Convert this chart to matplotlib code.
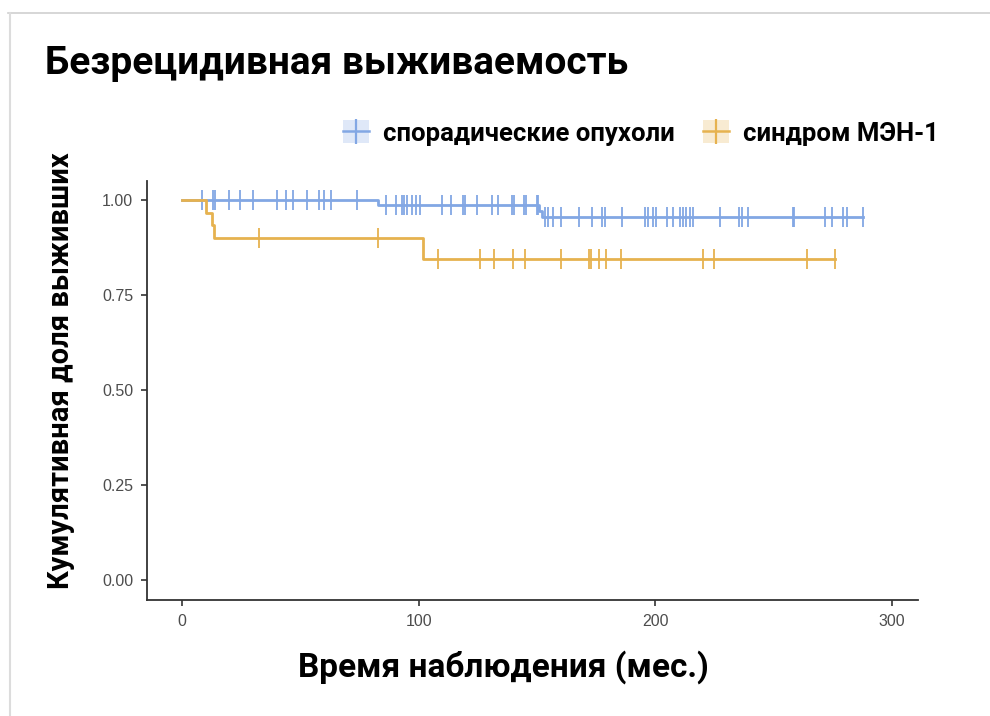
import numpy as np
import matplotlib.pyplot as plt
from matplotlib.lines import Line2D
from matplotlib.patches import Patch
from matplotlib.legend_handler import HandlerTuple

plt.rcParams['font.family'] = ['Roboto', 'DejaVu Sans']

# спорадические опухоли
spor_event_t = [0, 83, 151, 152]
spor_surv = [1.0, 0.987, 0.971, 0.955]
spor_end = 287.7
spor_censor = [8.5, 13, 14, 20, 24.5, 30, 40, 44, 47, 53, 58, 60, 63, 74,
               86, 90.5, 93, 94, 95, 97, 99, 100.5, 110, 113.6, 118.7, 119.6,
               124.6, 131, 133.5, 139.4, 140.3, 144.5, 145.3, 150, 150.4,
               153.4, 154.6, 156.7, 160, 167.7, 173.2, 177.4, 178.7, 185.9,
               195.6, 196.9, 199, 200.3, 204.9, 207.4, 210.4, 211.7, 212.9,
               214.6, 215.9, 227.3, 235.3, 236.6, 239.1, 258.1, 258.6, 271.6,
               274.6, 279.3, 281, 287.7]

# синдром МЭН-1
men_event_t = [0, 10, 12.5, 13.5, 101.8]
men_surv = [1.0, 0.967, 0.933, 0.90, 0.845]
men_end = 276
men_censor = [32.5, 82.8, 108, 126, 132, 140, 145, 160, 172, 173, 176, 179,
              185.5, 220, 225, 264, 276]

labels = ['спорадические опухоли', 'синдром МЭН-1']
colors = ['#82A7E4', '#E6B24F']

fig = plt.figure(figsize=(9.9, 7.16), dpi=100)
ax = fig.add_axes([147 / 990, 1 - 600 / 716, (918 - 147) / 990, (600 - 181) / 716])

# рамка скриншота
fig.add_artist(Line2D([8 / 990, 1], [1 - 13 / 716] * 2, color='#cfcfcf', lw=1.2,
                      transform=fig.transFigure))
fig.add_artist(Line2D([10 / 990] * 2, [0, 1 - 13 / 716], color='#dcdcdc', lw=1.5,
                      transform=fig.transFigure))


def km_curve(ax, ev_t, surv, end, cens, color):
    xs = list(ev_t) + [end]
    ys = list(surv) + [surv[-1]]
    ax.step(xs, ys, where='post', color=color, lw=2.0, zorder=3)
    idx = np.searchsorted(ev_t, cens, side='right') - 1
    cy = np.array(surv)[idx]
    ax.plot(cens, cy, ls='none', marker='|', ms=15, mew=1.3, color=color, zorder=3)


km_curve(ax, spor_event_t, spor_surv, spor_end, spor_censor, colors[0])
km_curve(ax, men_event_t, men_surv, men_end, men_censor, colors[1])

ax.set_xlim(-14.8, 311)
ax.set_ylim(-0.0526, 1.05)
ax.set_xticks([0, 100, 200, 300])
ax.set_yticks([0, 0.25, 0.5, 0.75, 1.0])
ax.set_yticklabels(['0.00', '0.25', '0.50', '0.75', '1.00'])
for s in ['top', 'right']:
    ax.spines[s].set_visible(False)
for s in ['left', 'bottom']:
    ax.spines[s].set_color('#333333')
    ax.spines[s].set_linewidth(1.3)
ax.tick_params(colors='#333333', labelcolor='#4d4d4d', labelsize=11.5,
               length=4, width=1.2, pad=6)
for lab in ax.get_xticklabels() + ax.get_yticklabels():
    lab.set_family(['Liberation Sans', 'DejaVu Sans'])

ax.set_xlabel('Время наблюдения (мес.)', fontsize=24, fontweight='bold')
ax.set_ylabel('Кумулятивная доля выживших', fontsize=21, fontweight='bold')
ax.xaxis.set_label_coords(0.462, -0.119)
ax.yaxis.set_label_coords(-0.094, 0.547)

fig.text(45 / 990, 1 - 63 / 716, 'Безрецидивная выживаемость', fontsize=28,
         fontweight='bold', ha='left', va='center')

handles = []
for c in colors:
    bg = Patch(facecolor=c, alpha=0.25, edgecolor='none')
    ln = Line2D([], [], color=c, lw=1.8, marker='|', ms=18, mew=1.6)
    handles.append((bg, ln))
fig.legend(handles, labels, handler_map={tuple: HandlerTuple(ndivide=1, pad=0)},
           loc='center right', bbox_to_anchor=(962 / 990, 1 - 133 / 716), ncol=2,
           frameon=False, prop={'size': 18.5, 'weight': 'bold'}, handlelength=1.0,
           handleheight=1.0, columnspacing=1.1, handletextpad=0.55)

fig.savefig('out.png', dpi=100, facecolor='white')
